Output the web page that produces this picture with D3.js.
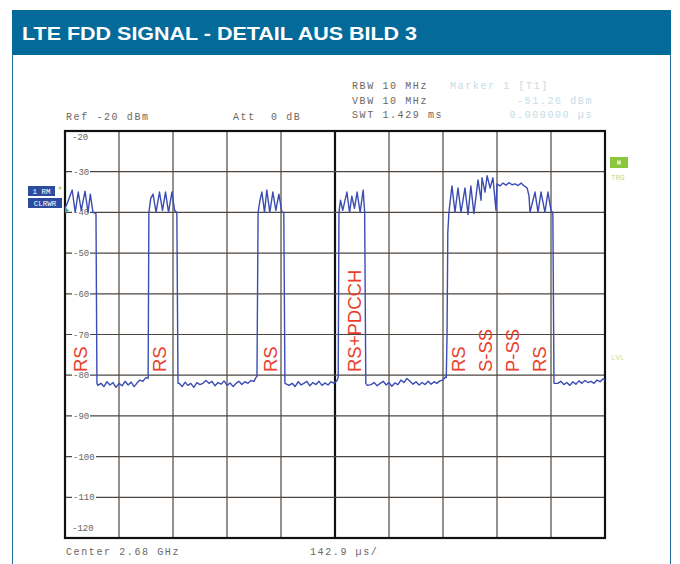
<!DOCTYPE html>
<html><head><meta charset="utf-8">
<script src="https://cdn.jsdelivr.net/npm/d3@7"></script>
<style>
html,body{margin:0;padding:0;background:#fff;}
svg{display:block;}
</style></head>
<body>
<svg id="chart" width="680" height="564"></svg>
<script>
// ---------- data ----------
const title = "LTE FDD SIGNAL - DETAIL AUS BILD 3";
const yTickValues = [-30, -40, -50, -60, -70, -80, -90, -100, -110];
const yEdgeLabels = [-20, -120];
const timePerDivUs = 142.9;
const divisions = 10;
const sweepUs = 1429;
const levelRange = [-120, -20];
const headerLeft = ["Ref -20 dBm", "Att\u00a0\u00a00 dB"];
const headerSettings = ["RBW 10 MHz", "VBW 10 MHz", "SWT 1.429 ms"];
const markerInfo = ["Marker 1 [T1]", "-51.26 dBm", "0.000000 \u00b5s"];
const footer = ["Center 2.68 GHz", "142.9 \u00b5s/"];
const badges = ["1 RM", "CLRWR"];
const annotations = [
  {t: 58, label: "RS"},
  {t: 267, label: "RS"},
  {t: 561, label: "RS"},
  {t: 783, label: "RS+PDCCH"},
  {t: 1058, label: "RS"},
  {t: 1130, label: "S-SS"},
  {t: 1201, label: "P-SS"},
  {t: 1273, label: "RS"}
];
// trace: [time in µs, level in dBm]
const trace = [
  [0,-39],[5,-38],[19,-34.5],[27,-40],[35,-35],[43,-39.5],[53,-34.8],[61,-40],[67,-35.5],[74,-40],[82,-40.3],[84.5,-82],
  [87,-82.5],[95,-82],[103,-82.8],[111,-81.6],[119,-82.4],[127,-81.8],[135,-83],[143,-82],[151,-82.6],[159,-81.5],[167,-82.4],[175,-81.7],[183,-82.8],[190,-82],[198,-81.2],[206,-81.5],[214,-80.6],[220,-80.8],
  [222,-40],[227,-36.5],[233,-35.5],[241,-40],[250,-35],[258,-39.5],[266,-35],[274,-40],[283,-35],[290,-39.5],[296,-40],[299,-82],
  [302,-82],[310,-82.8],[318,-81.7],[325,-82.5],[333,-82],[341,-83],[349,-81.8],[357,-82.3],[365,-82],[373,-81.3],[381,-82],[389,-81.5],[397,-82.6],[405,-81.8],[413,-82.2],[421,-81.4],[429,-82.5],[437,-81.9],[445,-82.8],[453,-82],[460,-81.5],[468,-82.3],[476,-81.6],[484,-82],[492,-81.3],[500,-81.5],[505,-80.6],[508,-80.3],
  [511,-40],[516,-37],[521,-35],[528,-40],[534,-34.5],[542,-40],[550,-35],[558,-39.5],[566,-35.5],[574,-40],[579,-40],[582,-82],
  [593,-82.5],[601,-82],[609,-82.8],[617,-81.6],[625,-82.4],[632,-82],[640,-81.5],[648,-82.6],[656,-81.8],[664,-82.3],[672,-81.5],[680,-82.5],[688,-81.9],[696,-82.4],[704,-81.6],[712,-82],[720,-81.3],[723,-80.5],
  [725,-40],[729,-37],[735,-39.5],[746,-35],[753,-40],[759,-36],[766,-39],[773,-35],[781,-40],[789,-34.5],[793,-40],[796,-82],
  [800,-82.5],[810,-82.3],[818,-81.8],[826,-82.6],[834,-82],[842,-81.5],[850,-82.4],[857,-81.8],[865,-82.7],[873,-81.9],[881,-82.3],[889,-81.2],[897,-81.8],[905,-80.8],[913,-81.5],[921,-82.2],[929,-81.6],[937,-82.4],[945,-81.8],[953,-82.3],[961,-81.5],[969,-82.2],[977,-81.6],[984,-82],[992,-81.4],[1000,-81.2],[1006,-80.5],[1009,-80.6],
  [1011,-70],[1013,-45],[1016,-40],[1024,-33.5],[1032,-40],[1040,-34],[1048,-40],[1058.5,-34],[1066.5,-40.5],[1074,-33.5],[1082,-40.3],[1093,-32],[1101,-37],[1103.5,-31.5],[1111.5,-35],[1117,-31],[1125,-34],[1132.5,-31.5],[1140.5,-39.5],[1143,-33],[1151,-33.5],[1159,-32.8],[1167,-33.3],[1175,-32.7],[1183,-33.2],[1191,-33],[1199,-33.4],[1207,-32.8],[1215,-33.5],[1223,-34],[1228,-36],[1230.5,-40],[1243.8,-35],[1251.7,-40],[1259.7,-35],[1270,-40],[1278,-35],[1286,-39.5],[1291,-40],[1294,-82],
  [1297,-82],[1304,-82],[1312,-81.5],[1320,-82.3],[1328,-81.8],[1336,-82.5],[1344,-81.6],[1352,-82.2],[1360,-81.4],[1368,-82],[1376,-81.3],[1384,-81.8],[1392,-81.5],[1400,-82],[1408,-81.2],[1416,-81.6],[1424,-80.9],[1429,-81.2]
];

// ---------- layout ----------
const svg = d3.select("#chart");
const plot = {left: 65, right: 605, top: 131, bottom: 538};
const mono = "'Liberation Mono','DejaVu Sans Mono',monospace";
const sans = "'Liberation Sans',Arial,sans-serif";
const frameColor = "#1f6e9c";

// frame + header
svg.append("rect").attr("x", 12.5).attr("y", 10.5).attr("width", 658).attr("height", 560)
  .attr("fill", "#fff").attr("stroke", frameColor).attr("stroke-width", 1);
svg.append("rect").attr("x", 12).attr("y", 10).attr("width", 659).attr("height", 45)
  .attr("fill", "#046a99");
svg.append("text").attr("x", 22).attr("y", 40).text(title)
  .attr("fill", "#fff").attr("font-family", sans).attr("font-weight", "bold")
  .attr("font-size", 18).attr("textLength", 395).attr("lengthAdjust", "spacingAndGlyphs");

const x = d3.scaleLinear().domain([0, sweepUs]).range([plot.left, plot.right]);
const y = d3.scaleLinear().domain(levelRange).range([plot.bottom, plot.top]);

const g = svg.append("g");
const gridColor = "#4d4640";

// vertical grid
const xGridVals = d3.range(1, divisions).map(i => i * timePerDivUs);
g.append("g").selectAll("line").data(xGridVals).join("line")
  .attr("x1", d => x(d)).attr("x2", d => x(d))
  .attr("y1", plot.top).attr("y2", plot.bottom)
  .attr("stroke", (d, i) => i === 4 ? "#111" : gridColor)
  .attr("stroke-width", (d, i) => i === 4 ? 2.2 : 1.2);

// horizontal grid
g.append("g").selectAll("line").data(yTickValues).join("line")
  .attr("x1", plot.left).attr("x2", plot.right)
  .attr("y1", d => y(d)).attr("y2", d => y(d))
  .attr("stroke", gridColor).attr("stroke-width", 1.2);

// tick labels with white knockout
const lab = g.append("g").attr("font-family", mono).attr("font-size", 9).attr("fill", "#6a6460");
yTickValues.forEach(v => {
  lab.append("rect").attr("x", 72).attr("y", y(v) - 4).attr("width", v <= -100 ? 24 : 18).attr("height", 8).attr("fill", "#fff");
  lab.append("text").attr("x", 73).attr("y", y(v) + 3).text(v);
});
lab.append("text").attr("x", 72).attr("y", y(yEdgeLabels[0]) + 9).text(yEdgeLabels[0]);
lab.append("text").attr("x", 72).attr("y", y(yEdgeLabels[1]) - 7).text(yEdgeLabels[1]);

// border
g.append("rect").attr("x", plot.left).attr("y", plot.top)
  .attr("width", plot.right - plot.left).attr("height", plot.bottom - plot.top)
  .attr("fill", "none").attr("stroke", "#111").attr("stroke-width", 2.2);

// trace
const line = d3.line().x(d => x(d[0])).y(d => y(d[1]));
g.append("path").datum(trace).attr("d", line)
  .attr("fill", "none").attr("stroke", "#3b4db3").attr("stroke-width", 1.4)
  .attr("stroke-linejoin", "round");

// annotations
const ann = g.append("g").attr("font-family", sans).attr("font-size", 18.5).attr("fill", "#e8402c");
annotations.forEach(a => {
  ann.append("text").attr("transform", `translate(${x(a.t)},372) rotate(-90)`).text(a.label);
});

// header texts
const info = svg.append("g").attr("font-family", mono).attr("font-size", 10)
  .attr("letter-spacing", 1.6).attr("fill", "#6d6763");
info.append("text").attr("x", 66).attr("y", 120).text(headerLeft[0]);
info.append("text").attr("x", 233).attr("y", 120).text(headerLeft[1]);
headerSettings.forEach((s, i) => {
  info.append("text").attr("x", 352).attr("y", 89 + i * 14.5).text(s);
});
const mk = svg.append("g").attr("font-family", mono).attr("font-size", 10)
  .attr("letter-spacing", 1.6).attr("fill", "#c2dde6");
mk.append("text").attr("x", 450).attr("y", 89).text(markerInfo[0]);
mk.append("text").attr("x", 593).attr("y", 104).attr("text-anchor", "end").text(markerInfo[1]);
mk.append("text").attr("x", 593).attr("y", 118).attr("text-anchor", "end").text(markerInfo[2]);

// footer
info.append("text").attr("x", 66).attr("y", 555).text(footer[0]);
info.append("text").attr("x", 310).attr("y", 555).text(footer[1]);

// left badges
const badgeW = [27, 34];
badges.forEach((b, i) => {
  svg.append("rect").attr("x", 28).attr("y", 186 + i * 12).attr("width", badgeW[i]).attr("height", 10).attr("fill", "#2d4c9e");
  svg.append("text").attr("x", 28 + badgeW[i] / 2).attr("y", 194 + i * 12).attr("text-anchor", "middle")
    .attr("font-family", mono).attr("font-size", 7.5).attr("fill", "#fff").text(b);
});
svg.append("circle").attr("cx", 60).attr("cy", 188).attr("r", 1.5).attr("fill", "#b7d66a");
const my = y(-39.5);
svg.append("path").attr("d", `M${plot.left},${my - 3}L${plot.left + 4},${my}L${plot.left},${my + 3}Z`).attr("fill", "#3aa6a0");

// right markers
svg.append("rect").attr("x", 610).attr("y", 157).attr("width", 18).attr("height", 11).attr("fill", "#8cc63f");
svg.append("rect").attr("x", 617).attr("y", 160.5).attr("width", 4).attr("height", 4).attr("fill", "#d9f0b0");
svg.append("text").attr("x", 611).attr("y", 180).attr("font-family", mono).attr("font-size", 7.5).attr("fill", "#b9dc8c").text("TRG");
svg.append("text").attr("x", 611).attr("y", 360).attr("font-family", mono).attr("font-size", 7.5).attr("fill", "#d4dc8c").text("LVL");
</script>
</body></html>
